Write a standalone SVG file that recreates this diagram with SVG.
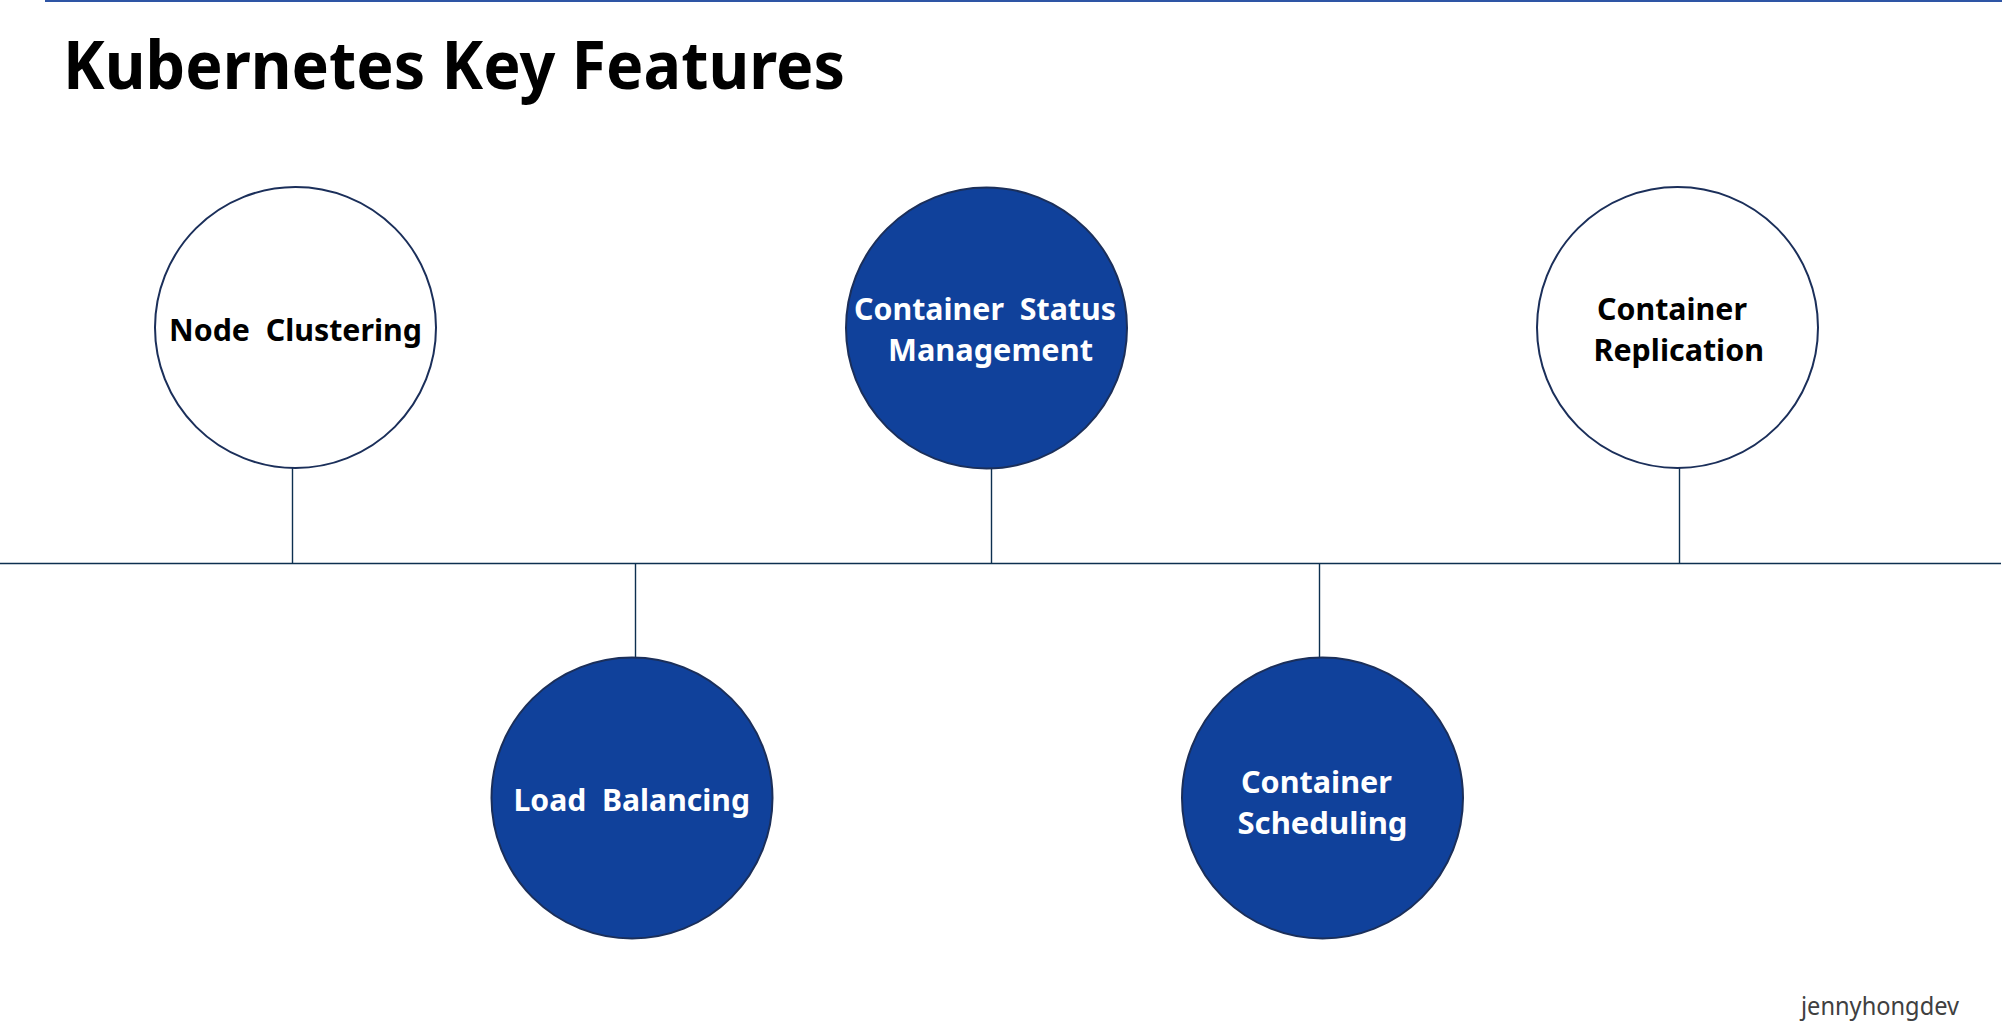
<svg xmlns="http://www.w3.org/2000/svg" width="2002" height="1036" viewBox="0 0 2002 1036">
  <style>
    .node-light { fill: #FFFFFF; stroke: #1B2F5A; stroke-width: 2; }
    .node-dark { fill: #10419B; stroke: #1B2F5A; stroke-width: 2; }
    .lbl { font-family: "Noto Sans", "Open Sans", sans-serif; font-weight: bold; font-size: 31px; }
    .lbl-dark { fill: #000000; }
    .lbl-light { fill: #FFFFFF; }
    .conn { stroke: #0D3050; stroke-width: 1.4; fill: none; }
  </style>
  <rect width="2002" height="1036" fill="#FFFFFF"/>
  <line x1="45" y1="1" x2="2002" y2="1" stroke="#2E55A5" stroke-width="2"/>
  <text x="63" y="89" font-family="Noto Sans, Open Sans, sans-serif" font-weight="bold" font-size="67" fill="#000000" textLength="782" lengthAdjust="spacingAndGlyphs">Kubernetes Key Features</text>

  <g id="connectors">
    <line class="conn" x1="0" y1="563.5" x2="2001" y2="563.5"/>
    <line class="conn" x1="292.5" y1="468" x2="292.5" y2="563.5"/>
    <line class="conn" x1="635.5" y1="563.5" x2="635.5" y2="657"/>
    <line class="conn" x1="991.5" y1="469" x2="991.5" y2="563.5"/>
    <line class="conn" x1="1319.5" y1="563.5" x2="1319.5" y2="657"/>
    <line class="conn" x1="1679.5" y1="468" x2="1679.5" y2="563.5"/>
  </g>

  <g id="node-clustering">
    <circle class="node-light" cx="295.5" cy="327.5" r="140.5"/>
    <text class="lbl lbl-dark" xml:space="preserve" x="169" y="340.5" textLength="253" lengthAdjust="spacingAndGlyphs">Node  Clustering</text>
  </g>

  <g id="load-balancing">
    <circle class="node-dark" cx="632" cy="798" r="140.5"/>
    <text class="lbl lbl-light" xml:space="preserve" x="513.5" y="810.5" textLength="236.5" lengthAdjust="spacingAndGlyphs">Load  Balancing</text>
  </g>

  <g id="container-status-management">
    <circle class="node-dark" cx="986.5" cy="328" r="140.5"/>
    <text class="lbl lbl-light" xml:space="preserve" x="854" y="320" textLength="262" lengthAdjust="spacingAndGlyphs">Container  Status</text>
    <text class="lbl lbl-light" x="888" y="360.5" textLength="205" lengthAdjust="spacingAndGlyphs">Management</text>
  </g>

  <g id="container-scheduling">
    <circle class="node-dark" cx="1322.5" cy="798" r="140.5"/>
    <text class="lbl lbl-light" x="1241" y="792.5" textLength="151" lengthAdjust="spacingAndGlyphs">Container</text>
    <text class="lbl lbl-light" x="1237.5" y="833.5" textLength="170" lengthAdjust="spacingAndGlyphs">Scheduling</text>
  </g>

  <g id="container-replication">
    <circle class="node-light" cx="1677.5" cy="327.5" r="140.5"/>
    <text class="lbl lbl-dark" x="1597" y="320" textLength="150" lengthAdjust="spacingAndGlyphs">Container</text>
    <text class="lbl lbl-dark" x="1593.5" y="360.5" textLength="170.5" lengthAdjust="spacingAndGlyphs">Replication</text>
  </g>

  <text x="1801" y="1015" font-family="Noto Sans, Open Sans, sans-serif" font-size="26" fill="#404040" textLength="158" lengthAdjust="spacingAndGlyphs">jennyhongdev</text>
</svg>
